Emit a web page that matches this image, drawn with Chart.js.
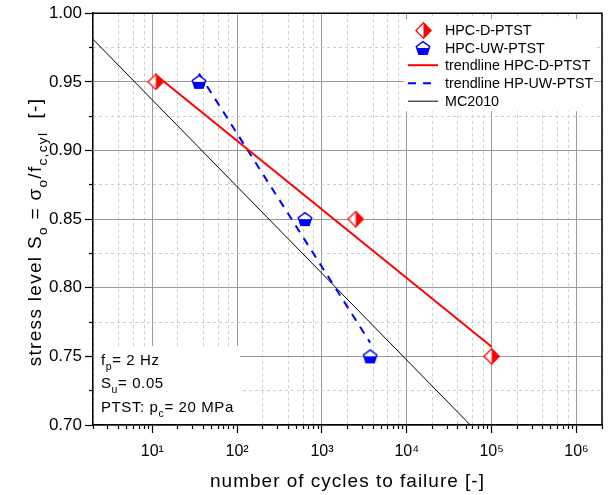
<!DOCTYPE html>
<html>
<head>
<meta charset="utf-8">
<script src="https://cdn.jsdelivr.net/npm/chart.js@4.4.0/dist/chart.umd.min.js"></script>
<style>
  html, body { margin: 0; padding: 0; background: #fff; }
</style>
</head>
<body>
<canvas id="myChart" width="611" height="495"></canvas>
<script>
// values
const dCycles = [11, 2500, 100000];
const dStress = [0.95, 0.85, 0.75];
const uwCycles = [35.5, 630, 3700];
const uwStress = [0.95, 0.85, 0.75];
const dTrendCycles = [11, 100000];
const dTrendStress = [0.955, 0.757];
const uwTrendCycles = [35.5, 3700];
const uwTrendStress = [0.956, 0.760];
const mcCycles = [2, 56000];
const mcStress = [0.981, 0.70];

const xMajor = [10, 100, 1000, 10000, 100000, 1000000];
const xMajorLabels = ['10¹', '10²', '10³', '10⁴', '10⁵', '10⁶'];
const yMajor = [0.70, 0.75, 0.80, 0.85, 0.90, 0.95, 1.00];
const yMinor = [0.725, 0.775, 0.825, 0.875, 0.925, 0.975];
const legendLabels = ['HPC-D-PTST', 'HPC-UW-PTST', 'trendline HPC-D-PTST', 'trendline HP-UW-PTST', 'MC2010'];

// minor log ticks 2..9 per decade (grid only on 2,4,6,8)
const xMinor = [];
for (let e = 0; e <= 6; e++) {
  for (let m = 2; m <= 9; m++) {
    const v = m * Math.pow(10, e);
    if (v >= 2 && v <= 2e6) xMinor.push(v);
  }
}
function mantissa(v) {
  return Math.round(v / Math.pow(10, Math.floor(Math.log10(v) + 1e-9)));
}

const FONT = "'Liberation Sans', Arial, sans-serif";
const RED = '#ff0000';
const BLUE = '#0000ff';

function pts(xs, ys) {
  return xs.map((x, i) => ({ x: x, y: ys[i] }));
}

// half filled diamond marker
function makeDiamond() {
  const c = document.createElement('canvas');
  c.width = 17; c.height = 17;
  const g = c.getContext('2d');
  g.fillStyle = '#fff';
  g.beginPath();
  g.moveTo(8.5, 0.8); g.lineTo(16.2, 8.5); g.lineTo(8.5, 16.2); g.lineTo(0.8, 8.5); g.closePath();
  g.fill();
  g.fillStyle = RED;
  g.beginPath();
  g.moveTo(8.5, 0.8); g.lineTo(16.2, 8.5); g.lineTo(8.5, 16.2); g.closePath();
  g.fill();
  g.strokeStyle = RED; g.lineWidth = 1.3;
  g.beginPath();
  g.moveTo(8.5, 0.8); g.lineTo(16.2, 8.5); g.lineTo(8.5, 16.2); g.lineTo(0.8, 8.5); g.closePath();
  g.stroke();
  return c;
}

// half filled pentagon marker
function makePentagon() {
  const c = document.createElement('canvas');
  c.width = 16; c.height = 16;
  const g = c.getContext('2d');
  const cx = 8, cy = 8.6, r = 7;
  const path = () => {
    g.beginPath();
    for (let k = 0; k < 5; k++) {
      const a = -Math.PI / 2 + k * 2 * Math.PI / 5;
      const px = cx + r * Math.cos(a), py = cy + r * Math.sin(a);
      if (k === 0) g.moveTo(px, py); else g.lineTo(px, py);
    }
    g.closePath();
  };
  path(); g.fillStyle = '#fff'; g.fill();
  g.save(); g.beginPath(); g.rect(0, cy - 0.5, 16, 16); g.clip();
  path(); g.fillStyle = BLUE; g.fill();
  g.restore();
  path(); g.strokeStyle = BLUE; g.lineWidth = 1.5; g.stroke();
  return c;
}

const diamondImg = makeDiamond();
const pentagonImg = makePentagon();

// text with subscripts: parts = [[text, isSub], ...]
function richWidth(g, parts, size, subK) {
  let w = 0;
  parts.forEach(p => {
    g.font = (p[1] ? size * subK : size) + 'px ' + FONT;
    w += g.measureText(p[0]).width;
  });
  return w;
}
function drawRich(g, parts, x, y, size, subK) {
  let cx = x;
  g.textAlign = 'left';
  g.textBaseline = 'alphabetic';
  parts.forEach(p => {
    const s = p[1] ? size * subK : size;
    g.font = s + 'px ' + FONT;
    g.fillText(p[0], cx, p[1] ? y + size * 0.3 : y);
    cx += g.measureText(p[0]).width;
  });
}

const overlay = {
  id: 'overlay',
  beforeInit(chart) {
    // the reference text is a little wider spaced than Liberation Sans
    chart.ctx.letterSpacing = '1px';
  },
  afterDatasetsDraw(chart) {
    const g = chart.ctx, a = chart.chartArea;
    g.save();
    // legend box
    const lx = a.right - 198, ly = a.top + 6;
    g.fillStyle = '#fff';
    g.fillRect(lx, ly, 190, 92);
    // note box
    g.fillRect(a.left + 1, a.bottom - 79, 146, 78);

    const rows = [ly + 11, ly + 28.5, ly + 46, ly + 64, ly + 82];
    g.letterSpacing = '0px';
    chart.data.datasets.forEach((ds, i) => {
      const y = rows[i];
      if (ds.showLine) {
        g.save();
        g.strokeStyle = ds.borderColor;
        g.lineWidth = ds.borderWidth;
        g.setLineDash(ds.borderDash || []);
        g.beginPath(); g.moveTo(lx + 4, y); g.lineTo(lx + 34, y); g.stroke();
        g.restore();
      } else {
        const img = ds.pointStyle;
        g.drawImage(img, Math.round(lx + 19 - img.width / 2), Math.round(y - img.height / 2));
      }
      g.fillStyle = '#000';
      g.font = '14.3px ' + FONT;
      g.textAlign = 'left';
      g.textBaseline = 'middle';
      g.fillText(ds.label, lx + 41, y + 1);
    });

    g.fillStyle = '#000';
    g.letterSpacing = '0.6px';
    drawRich(g, [['f', 0], ['p', 1], ['= 2 Hz', 0]], a.left + 8, 365, 15, 0.7);
    drawRich(g, [['S', 0], ['u', 1], ['= 0.05', 0]], a.left + 8, 388, 15, 0.7);
    drawRich(g, [['PTST: p', 0], ['c', 1], ['= 20 MPa', 0]], a.left + 8, 412, 15, 0.7);
    g.restore();
  },
  afterDraw(chart) {
    const g = chart.ctx, a = chart.chartArea;
    g.save();
    g.strokeStyle = '#000';
    g.lineWidth = 1.5;
    g.beginPath();
    g.moveTo(a.left, a.top); g.lineTo(a.right, a.top); g.lineTo(a.right, a.bottom);
    g.stroke();

    // axis titles
    g.fillStyle = '#000';
    g.letterSpacing = '1px';
    g.font = '19px ' + FONT;
    g.textAlign = 'center';
    g.textBaseline = 'alphabetic';
    g.fillText('number of cycles to failure [-]', (a.left + a.right) / 2, 487);

    g.letterSpacing = '1.3px';
    const yt = [['stress level S', 0], ['o', 1], [' = σ', 0], ['o', 1], ['/f', 0], ['c,cyl', 1], ['  [-]', 0]];
    const w = richWidth(g, yt, 19, 0.72);
    g.translate(41, 232);
    g.rotate(-Math.PI / 2);
    drawRich(g, yt, -w / 2, 0, 19, 0.72);
    g.restore();
  }
};

const ctx = document.getElementById('myChart').getContext('2d');
const chart = new Chart(ctx, {
  type: 'scatter',
  data: {
    datasets: [{
      label: legendLabels[0],
      data: pts(dCycles, dStress),
      pointStyle: diamondImg,
      pointRadius: 8,
      showLine: false
    }, {
      label: legendLabels[1],
      data: pts(uwCycles, uwStress),
      pointStyle: pentagonImg,
      pointRadius: 8,
      showLine: false
    }, {
      label: legendLabels[2],
      data: pts(dTrendCycles, dTrendStress),
      showLine: true,
      borderColor: RED,
      borderWidth: 2,
      pointRadius: 0
    }, {
      label: legendLabels[3],
      data: pts(uwTrendCycles, uwTrendStress),
      showLine: true,
      borderColor: BLUE,
      borderWidth: 2,
      borderDash: [8, 7],
      pointRadius: 0
    }, {
      label: legendLabels[4],
      data: pts(mcCycles, mcStress),
      showLine: true,
      borderColor: '#000',
      borderWidth: 1,
      pointRadius: 0
    }]
  },
  options: {
    responsive: false,
    animation: false,
    events: [],
    layout: { padding: { top: 10, right: 3, left: 0, bottom: 0 } },
    plugins: { legend: { display: false }, tooltip: { enabled: false } },
    scales: {
      x: {
        type: 'logarithmic',
        position: 'bottom',
        min: 2, max: 2e6,
        weight: 1,
        afterBuildTicks: s => { s.ticks = xMajor.map(v => ({ value: v })); },
        afterFit: s => { s.height = 70; },
        ticks: {
          autoSkip: false, maxRotation: 0, padding: 9, color: '#000',
          font: { family: FONT, size: 16 },
          callback: v => xMajorLabels[xMajor.indexOf(v)]
        },
        grid: { color: '#9a9a9a', tickColor: '#000', tickLength: 8, tickWidth: 1.2 },
        border: { color: '#000', width: 1.5 }
      },
      xm: {
        type: 'logarithmic',
        position: 'bottom',
        min: 2, max: 2e6,
        weight: 0,
        afterBuildTicks: s => { s.ticks = xMinor.map(v => ({ value: v })); },
        afterFit: s => { s.height = 0; },
        ticks: { display: false },
        grid: {
          color: c => (c.tick && mantissa(c.tick.value) % 2 === 0) ? '#cccccc' : 'rgba(0,0,0,0)',
          tickColor: '#000', tickLength: 4, tickWidth: 1.2
        },
        border: { display: false, dash: [3, 3] }
      },
      y: {
        type: 'linear',
        position: 'left',
        min: 0.7, max: 1.0,
        weight: 1,
        afterBuildTicks: s => { s.ticks = yMajor.map(v => ({ value: v })); },
        afterFit: s => { s.width = 93; },
        ticks: {
          padding: 3, color: '#000',
          font: { family: FONT, size: 17 },
          callback: v => v.toFixed(2)
        },
        grid: { color: '#9a9a9a', tickColor: '#000', tickLength: 8, tickWidth: 1.2 },
        border: { color: '#000', width: 1.5 }
      },
      ym: {
        type: 'linear',
        position: 'left',
        min: 0.7, max: 1.0,
        weight: 0,
        afterBuildTicks: s => { s.ticks = yMinor.map(v => ({ value: v })); },
        afterFit: s => { s.width = 0; },
        ticks: { display: false },
        grid: { color: '#cccccc', tickColor: '#000', tickLength: 4, tickWidth: 1.2 },
        border: { display: false, dash: [3, 3] }
      }
    }
  },
  plugins: [overlay]
});
</script>
</body>
</html>
